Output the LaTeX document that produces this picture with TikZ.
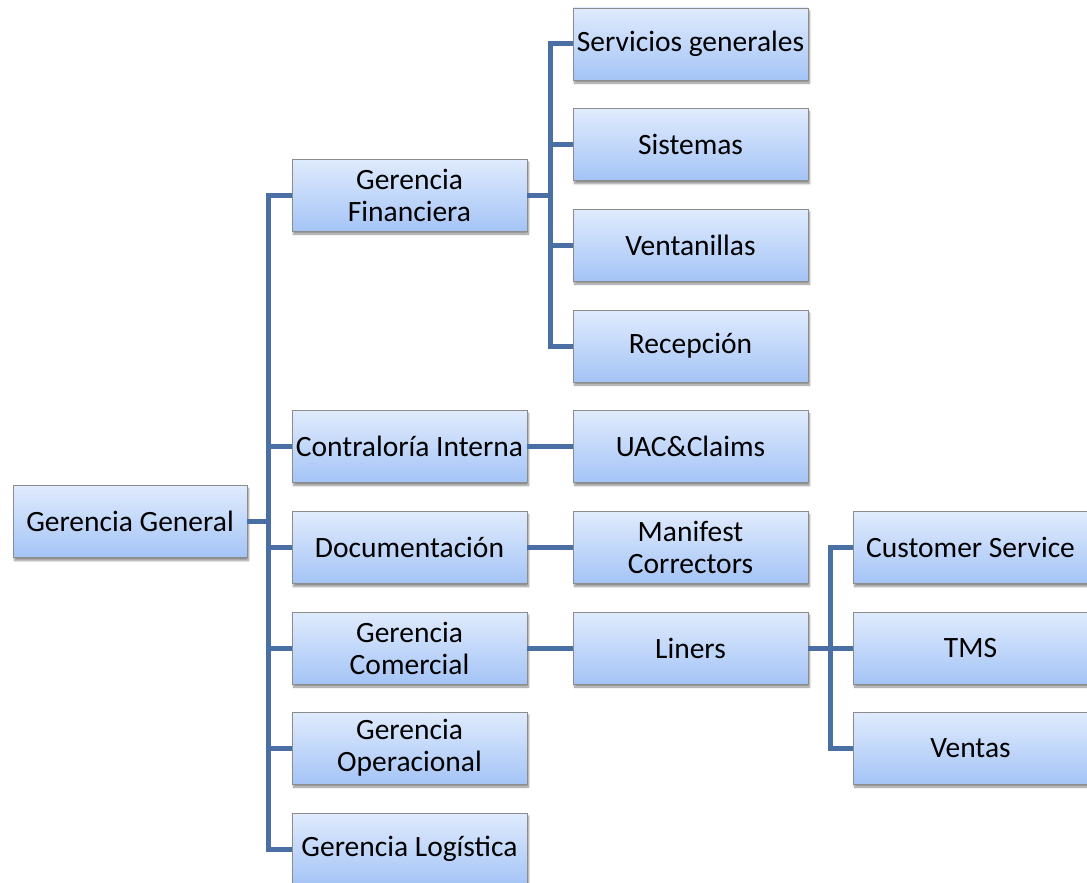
\documentclass[tikz,border=0pt]{standalone}
\usepackage{fontspec}
\setmainfont{Carlito}
\usetikzlibrary{shadows.blur}
\definecolor{boxtop}{RGB}{224,235,253}
\definecolor{boxbot}{RGB}{164,196,246}
\definecolor{boxline}{RGB}{140,140,140}
\definecolor{linkblue}{RGB}{74,111,165}
\tikzset{
  unit/.style={draw=boxline, line width=0.6pt, top color=boxtop, bottom color=boxbot,
    minimum width=235pt, minimum height=72pt, inner sep=1pt, align=center,
    font=\fontsize{29.5}{32}\selectfont,
    blur shadow={shadow xshift=1.5pt, shadow yshift=-3pt, shadow blur steps=6, shadow opacity=45}},
  conn/.style={draw=linkblue, line width=5pt, line join=miter}
}
\begin{document}
\begin{tikzpicture}[x=1pt, y=-1pt]
\useasboundingbox (0,0) rectangle (1087,883);
\clip (0,0) rectangle (1087,883);
% root
\node[unit, minimum width=234pt] (gg) at (130,521.5) {Gerencia General};
% second level
\node[unit] (fin) at (409.5,195) {Gerencia\\Financiera};
\node[unit] (con) at (409.5,446.5) {Contraloría Interna};
\node[unit] (doc) at (409.5,547.5) {Documentación};
\node[unit] (com) at (409.5,648) {Gerencia\\Comercial};
\node[unit] (ope) at (409.5,748) {Gerencia\\Operacional};
\node[unit] (log) at (409.5,849) {Gerencia Logística};
% third level
\node[unit] (ser) at (690.5,44) {Servicios generales};
\node[unit] (sis) at (690.5,144.5) {Sistemas};
\node[unit] (ven) at (690.5,245) {Ventanillas};
\node[unit] (rec) at (690.5,346) {Recepción};
\node[unit] (uac) at (690.5,446.5) {UAC\&Claims};
\node[unit] (man) at (690.5,547.5) {Manifest\\Correctors};
\node[unit] (lin) at (690.5,648) {Liners};
% fourth level
\node[unit] (cus) at (970.5,547.5) {Customer Service};
\node[unit] (tms) at (970.5,648) {TMS};
\node[unit] (vts) at (970.5,748) {Ventas};
% connectors
\foreach \c in {fin,con,doc,com,ope,log}
  \draw[conn] (gg.east) -- ++(21,0) |- (\c.west);
\foreach \c in {ser,sis,ven,rec}
  \draw[conn] (fin.east) -- ++(23,0) |- (\c.west);
\draw[conn] (con.east) -- (uac.west);
\draw[conn] (doc.east) -- (man.west);
\draw[conn] (com.east) -- (lin.west);
\foreach \c in {cus,tms,vts}
  \draw[conn] (lin.east) -- ++(22,0) |- (\c.west);
\end{tikzpicture}
\end{document}
